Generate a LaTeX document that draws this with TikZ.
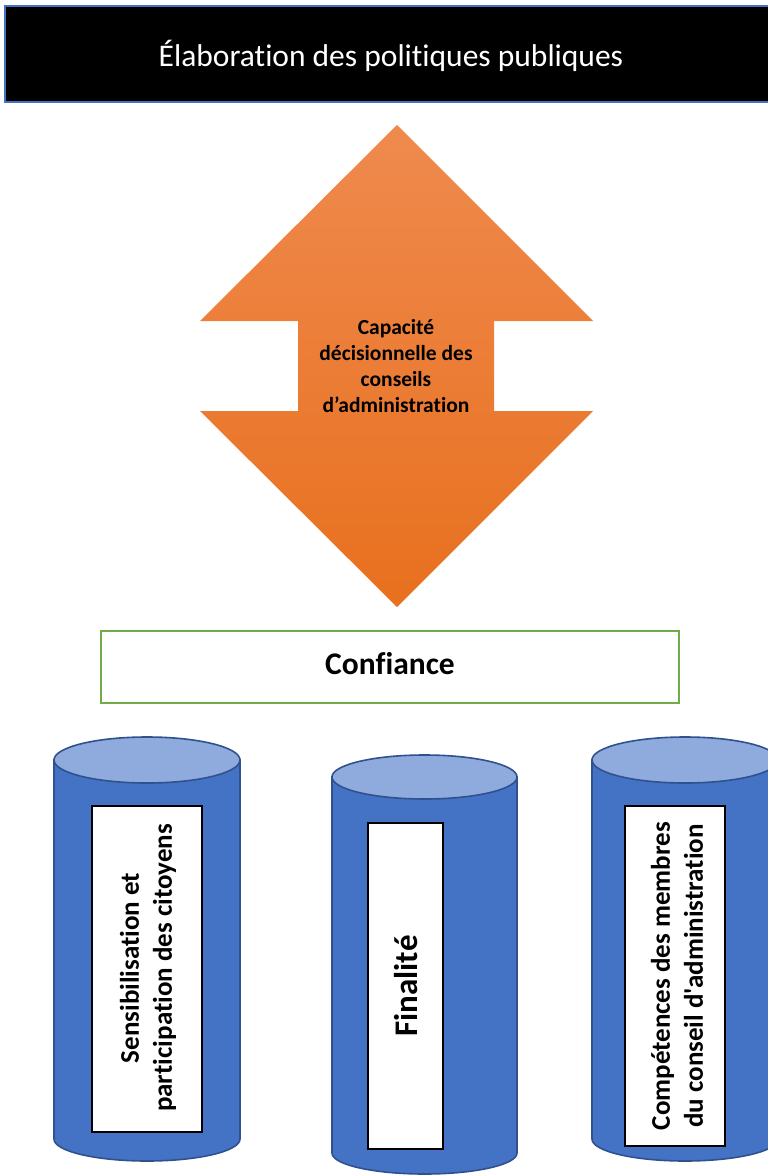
\documentclass[tikz,border=0pt]{standalone}
\usepackage{fontspec}
% Carlito without the TeX quote mapping, so ' stays straight
\newfontfamily\calibri{Carlito}[Ligatures=NoCommon]
\definecolor{cylbody}{HTML}{4472C4}
\definecolor{cyltop}{HTML}{8FAADC}
\definecolor{cylline}{HTML}{2F528F}
\definecolor{bannerline}{HTML}{4472C4}
\definecolor{trustgreen}{HTML}{70AD47}
\definecolor{orangetop}{HTML}{EF8A4E}
\definecolor{orangebot}{HTML}{E8701E}
\tikzset{
  banner/.style={fill=black, draw=bannerline, line width=1.2pt},
  trustbox/.style={fill=white, draw=trustgreen, line width=2.5pt},
  label/.style={inner sep=0pt, align=center},
  innerbox/.style={fill=white, draw=black, line width=1.3pt},
  cylbodystyle/.style={fill=cylbody, draw=cylline, line width=1.6pt},
  cyltopstyle/.style={fill=cyltop, draw=cylline, line width=1.6pt},
}
% cylinder: left x, right x, top ellipse centre y, top ry, bottom ellipse centre y, bottom ry
\newcommand{\drawcyl}[6]{%
  \pgfmathsetmacro{\rx}{(#2-#1)/2}%
  \draw[cylbodystyle] (#1,#3) -- (#1,#5) arc[start angle=180, end angle=360, x radius=\rx, y radius=-#6] -- (#2,#3) -- cycle;
  \draw[cyltopstyle] ({(#1+#2)/2},#3) ellipse[x radius=\rx, y radius=#4];
}
\begin{document}
\begin{tikzpicture}[x=1pt, y=-1pt, font=\calibri]
\useasboundingbox (0,0) rectangle (768,1175);
\clip (0,0) rectangle (768,1175);

% title banner
\draw[banner] (5,6) rectangle (775,102);
\node[label, text=white, font=\calibri\fontsize{31.5}{36}\selectfont] (title) at (391,56) {Élaboration des politiques publiques};

% double-headed arrow
\shade[top color=orangetop, bottom color=orangebot]
  (397,125) -- (593,321) -- (494,321) -- (494,411) -- (593,411) -- (397,607)
  -- (200,411) -- (298,411) -- (298,321) -- (200,321) -- cycle;
\node[label, font=\calibri\bfseries\fontsize{21.5}{26.3}\selectfont] (capacity) at (396,366)
  {Capacité\\décisionnelle des\\conseils\\d’administration};

% trust bar
\draw[trustbox] (101,631) rectangle (679,703);
\node[label, font=\calibri\bfseries\fontsize{31.5}{36}\selectfont] (trust) at (390,664) {Confiance};

% pillars
\drawcyl{54}{240}{760}{23}{1139}{22}
\drawcyl{332}{517}{777}{22}{1153}{21}
\drawcyl{592}{778}{760}{23}{1139}{22}

\draw[innerbox] (92,806) rectangle (202,1132);
\draw[innerbox] (368,823) rectangle (443,1149);
\draw[innerbox] (625,806) rectangle (725,1146);

\node[label, rotate=90, font=\calibri\bfseries\fontsize{27}{33}\selectfont] (p1) at (148,968)
  {Sensibilisation et\\participation des citoyens};
\node[label, rotate=90, font=\calibri\bfseries\fontsize{33}{38}\selectfont] (p2) at (406,986) {Finalité};
\node[label, rotate=90, font=\calibri\bfseries\fontsize{27}{33}\selectfont] (p3) at (677,976)
  {Compétences des membres\\du conseil d'administration};
\end{tikzpicture}
\end{document}
